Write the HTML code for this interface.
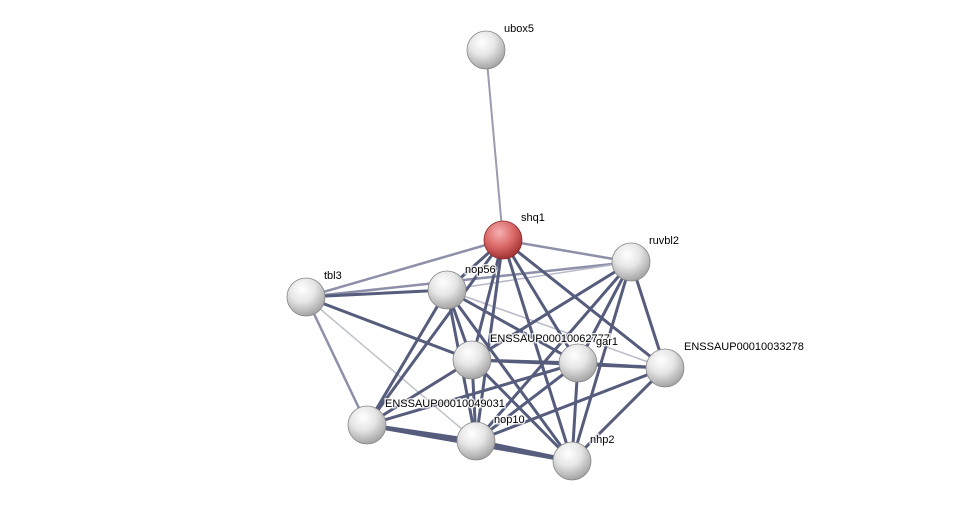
<!DOCTYPE html>
<html><head><meta charset="utf-8"><style>
html,body{margin:0;padding:0;background:#fff;}
svg{display:block;}
text{font-family:"Liberation Sans",sans-serif;font-size:11px;fill:#000;paint-order:stroke;stroke:#fff;stroke-width:3px;stroke-opacity:0.8;}
</style></head><body>
<svg width="976" height="506" viewBox="0 0 976 506" xmlns="http://www.w3.org/2000/svg">
<defs>
<radialGradient id="g" cx="0.4" cy="0.3" r="0.75">
<stop offset="0" stop-color="#ffffff"/><stop offset="0.45" stop-color="#e6e6e6"/><stop offset="1" stop-color="#9c9c9c"/>
</radialGradient>
<radialGradient id="r" cx="0.4" cy="0.3" r="0.75">
<stop offset="0" stop-color="#f4b0b0"/><stop offset="0.5" stop-color="#dc6a6a"/><stop offset="1" stop-color="#9a2b2b"/>
</radialGradient>
</defs>
<g stroke-linecap="round">
<line x1="486" y1="50" x2="503" y2="240" stroke="#9a9cb0" stroke-width="2"/>
<g stroke="#8d90a8" stroke-width="2.5">
<line x1="503" y1="240" x2="306" y2="297"/>
<line x1="503" y1="240" x2="631" y2="262"/>
<line x1="306" y1="297" x2="631" y2="262"/>
<line x1="306" y1="297" x2="367" y2="425"/>
<line x1="631" y1="262" x2="447" y2="290" stroke="#b8bac8" stroke-width="1.5"/>
<line x1="306" y1="297" x2="476" y2="441" stroke="#c0c2cc" stroke-width="1.5"/>
<line x1="447" y1="290" x2="665" y2="368" stroke="#b8bac8" stroke-width="1.5"/>
</g>
<g stroke="#565c7c" stroke-width="3">
<line x1="503" y1="240" x2="447" y2="290"/>
<line x1="503" y1="240" x2="472" y2="360"/>
<line x1="503" y1="240" x2="578" y2="363"/>
<line x1="503" y1="240" x2="665" y2="368"/>
<line x1="503" y1="240" x2="367" y2="425"/>
<line x1="503" y1="240" x2="476" y2="441"/>
<line x1="503" y1="240" x2="572" y2="461"/>
<line x1="306" y1="297" x2="447" y2="290"/>
<line x1="306" y1="297" x2="472" y2="360"/>
<line x1="447" y1="290" x2="472" y2="360"/>
<line x1="447" y1="290" x2="578" y2="363"/>
<line x1="447" y1="290" x2="367" y2="425"/>
<line x1="447" y1="290" x2="476" y2="441"/>
<line x1="447" y1="290" x2="572" y2="461"/>
<line x1="631" y1="262" x2="472" y2="360"/>
<line x1="631" y1="262" x2="578" y2="363"/>
<line x1="631" y1="262" x2="665" y2="368"/>
<line x1="631" y1="262" x2="572" y2="461"/>
<line x1="631" y1="262" x2="476" y2="441"/>
<line x1="472" y1="360" x2="578" y2="363"/>
<line x1="472" y1="360" x2="665" y2="368"/>
<line x1="472" y1="360" x2="367" y2="425"/>
<line x1="472" y1="360" x2="476" y2="441"/>
<line x1="472" y1="360" x2="572" y2="461"/>
<line x1="578" y1="363" x2="665" y2="368"/>
<line x1="578" y1="363" x2="367" y2="425"/>
<line x1="578" y1="363" x2="476" y2="441"/>
<line x1="578" y1="363" x2="572" y2="461"/>
<line x1="665" y1="368" x2="476" y2="441"/>
<line x1="665" y1="368" x2="572" y2="461"/>
<line x1="367" y1="425" x2="476" y2="441" stroke-width="4"/>
<line x1="367" y1="425" x2="572" y2="461" stroke-width="4"/>
<line x1="476" y1="441" x2="572" y2="461" stroke-width="4"/>
</g>
</g>
<g stroke="#888" stroke-width="0.8">
<circle cx="486" cy="50" r="19" fill="url(#g)"/>
<circle cx="503" cy="240" r="19" fill="url(#r)" stroke="#8a2a2a"/>
<circle cx="631" cy="262" r="19" fill="url(#g)"/>
<circle cx="306" cy="297" r="19" fill="url(#g)"/>
<circle cx="447" cy="290" r="19" fill="url(#g)"/>
<circle cx="472" cy="360" r="19" fill="url(#g)"/>
<circle cx="578" cy="363" r="19" fill="url(#g)"/>
<circle cx="665" cy="368" r="19" fill="url(#g)"/>
<circle cx="367" cy="425" r="19" fill="url(#g)"/>
<circle cx="476" cy="441" r="19" fill="url(#g)"/>
<circle cx="572" cy="461" r="19" fill="url(#g)"/>
</g>
<text x="504" y="32">ubox5</text>
<text x="521" y="221">shq1</text>
<text x="649" y="244">ruvbl2</text>
<text x="324" y="279">tbl3</text>
<text x="465" y="273">nop56</text>
<text x="490" y="342">ENSSAUP00010062777</text>
<text x="596" y="345">gar1</text>
<text x="684" y="350">ENSSAUP00010033278</text>
<text x="385" y="407">ENSSAUP00010049031</text>
<text x="494" y="423">nop10</text>
<text x="590" y="443">nhp2</text>
</svg>
</body></html>
